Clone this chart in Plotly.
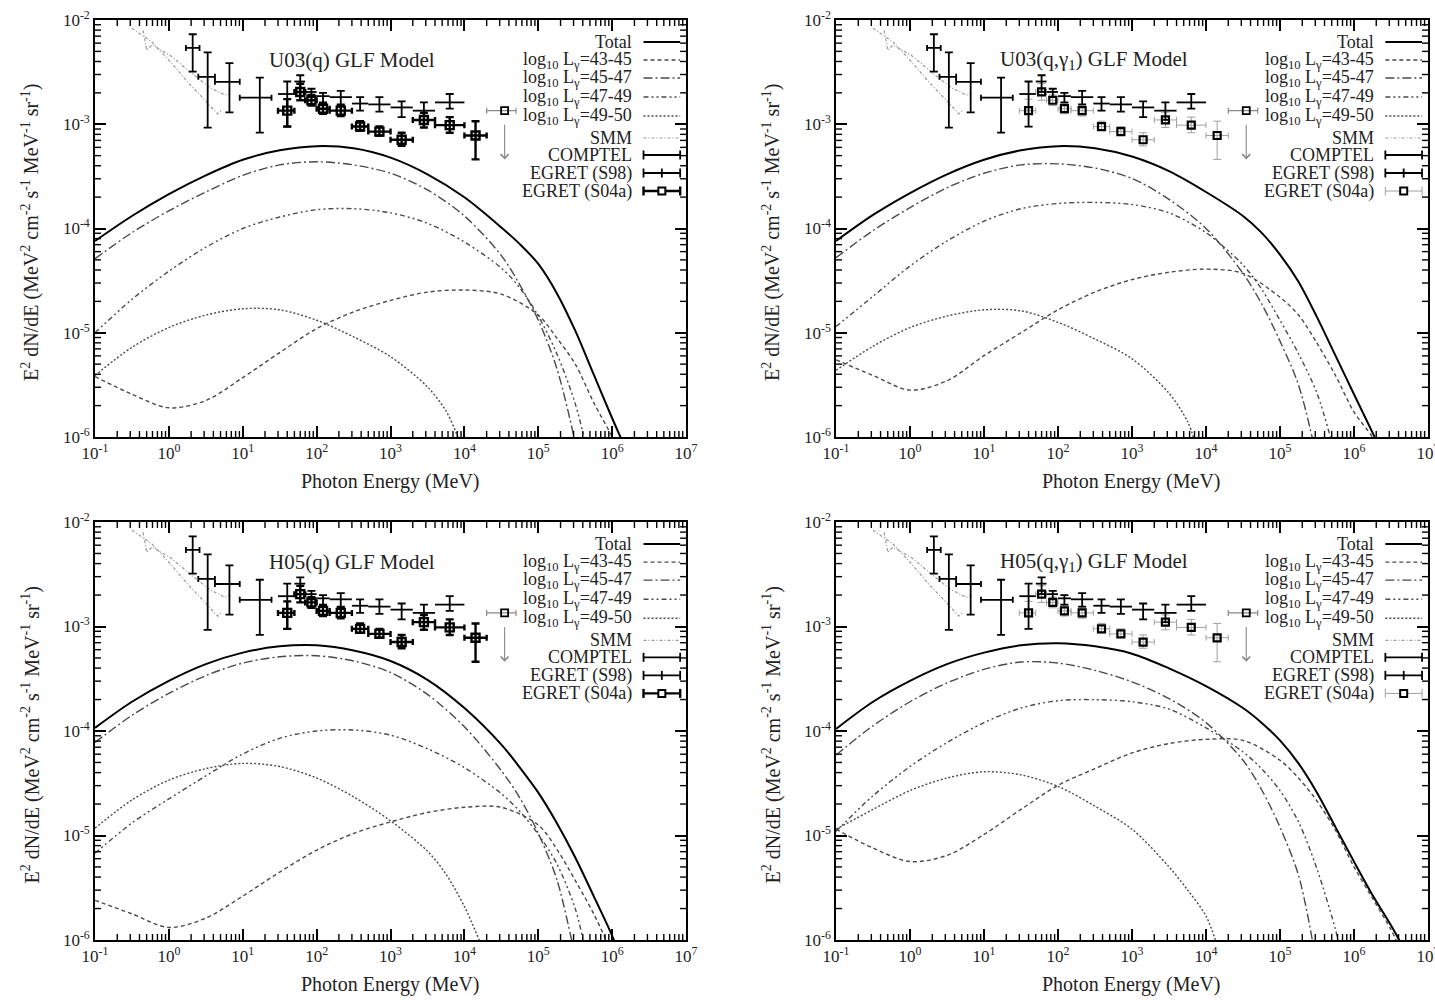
import numpy as np
import plotly.graph_objects as go

FONT = "Liberation Serif, Times New Roman, Times, serif"

# ---------------------------------------------------------------------------
# Panel layout (paper fractions), axis ranges (log10) and titles
# ---------------------------------------------------------------------------
X_DOMAINS = [[0.0662, 0.4781], [0.5826, 0.9951]]
Y_DOMAINS = [[0.563, 0.980], [0.060, 0.478]]
X_RANGE = [-1, 7]
Y_RANGE = [-6, -2]

PANEL_TITLES = [
    "U03(q) GLF Model",
    "U03(q,γ<sub>1</sub>) GLF Model",
    "H05(q) GLF Model",
    "H05(q,γ<sub>1</sub>) GLF Model",
]
LEGEND_LABELS = [
    "Total",
    "log<sub>10</sub> L<sub>γ</sub>=43-45",
    "log<sub>10</sub> L<sub>γ</sub>=45-47",
    "log<sub>10</sub> L<sub>γ</sub>=47-49",
    "log<sub>10</sub> L<sub>γ</sub>=49-50",
    "SMM",
    "COMPTEL",
    "EGRET (S98)",
    "EGRET (S04a)",
]
X_TITLE = "Photon Energy (MeV)"
Y_TITLE = ("E<sup>2</sup> dN/dE (MeV<sup>2</sup> cm<sup>-2</sup> s<sup>-1</sup> "
           "MeV<sup>-1</sup> sr<sup>-1</sup>)")
X_TICK_EXP = [-1, 0, 1, 2, 3, 4, 5, 6, 7]
Y_TICK_EXP = [-6, -5, -4, -3, -2]

# ---------------------------------------------------------------------------
# Model spectra: log10(E / MeV) and log10(E^2 dN/dE)
# ---------------------------------------------------------------------------
# U03(q)
U03Q_TOT_LOGE = [-1, -0.5, 0, 0.5, 1, 1.5, 2, 2.5, 3, 3.5, 4, 4.5, 4.75, 5, 5.25, 5.5, 5.75, 6, 6.25]
U03Q_TOT_LOGF = [-4.12, -3.88, -3.67, -3.49, -3.34, -3.25, -3.21, -3.23, -3.32, -3.48, -3.70,
                 -3.99, -4.15, -4.34, -4.62, -4.98, -5.40, -5.82, -6.22]
U03Q_4345_LOGE = [-1, -0.5, 0, 0.5, 1, 1.5, 2, 2.5, 3, 3.5, 4, 4.5, 5, 5.25, 5.5, 5.75, 6, 6.15]
U03Q_4345_LOGF = [-5.42, -5.59, -5.72, -5.65, -5.43, -5.19, -4.96, -4.80, -4.69, -4.61, -4.59,
                  -4.63, -4.83, -5.05, -5.30, -5.67, -6.0, -6.25]
U03Q_4547_LOGE = [-1, -0.5, 0, 0.5, 1, 1.5, 2, 2.5, 3, 3.5, 4, 4.5, 4.75, 5, 5.25, 5.5]
U03Q_4547_LOGF = [-4.29, -4.04, -3.83, -3.65, -3.49, -3.39, -3.36, -3.39, -3.47, -3.63, -3.88,
                  -4.26, -4.54, -4.88, -5.34, -6.05]
U03Q_4749_LOGE = [-1, -0.5, 0, 0.5, 1, 1.5, 2, 2.5, 3, 3.5, 4, 4.5, 4.75, 5, 5.25, 5.5, 5.65]
U03Q_4749_LOGF = [-5.00, -4.68, -4.41, -4.18, -4.00, -3.89, -3.82, -3.81, -3.85, -3.95, -4.13,
                  -4.38, -4.57, -4.84, -5.20, -5.68, -6.1]
U03Q_4950_LOGE = [-1, -0.5, 0, 0.5, 1, 1.5, 2, 2.5, 3, 3.5, 3.75, 3.9, 4.0]
U03Q_4950_LOGF = [-5.41, -5.14, -4.95, -4.83, -4.77, -4.78, -4.88, -5.04, -5.23, -5.52, -5.75,
                  -5.98, -6.2]

# U03(q, gamma1)
U03G_TOT_LOGE = [-1, -0.5, 0, 0.5, 1, 1.5, 2, 2.5, 3, 3.5, 4, 4.5, 4.75, 5, 5.25, 5.5, 5.75, 6,
                 6.3]
U03G_TOT_LOGF = [-4.12, -3.87, -3.66, -3.48, -3.34, -3.25, -3.21, -3.23, -3.31, -3.45, -3.65,
                 -3.88, -4.04, -4.25, -4.51, -4.85, -5.22, -5.59, -6.03]
U03G_4345_LOGE = [-1, -0.5, 0, 0.5, 1, 1.5, 2, 2.5, 3, 3.5, 4, 4.5, 5, 5.25, 5.5, 5.75, 6, 6.25,
                  6.4]
U03G_4345_LOGF = [-5.26, -5.41, -5.55, -5.46, -5.22, -5.00, -4.78, -4.61, -4.49, -4.42, -4.39,
                  -4.43, -4.66, -4.83, -5.10, -5.41, -5.76, -6.0, -6.2]
U03G_4547_LOGE = [-1, -0.5, 0, 0.5, 1, 1.5, 2, 2.5, 3, 3.5, 4, 4.5, 4.75, 5, 5.25, 5.45]
U03G_4547_LOGF = [-4.28, -4.02, -3.80, -3.61, -3.47, -3.39, -3.38, -3.42, -3.52, -3.72, -4.00,
                  -4.43, -4.72, -5.08, -5.50, -6.05]
U03G_4749_LOGE = [-1, -0.5, 0, 0.5, 1, 1.5, 2, 2.5, 3, 3.5, 4, 4.5, 4.75, 5, 5.25, 5.5, 5.7]
U03G_4749_LOGF = [-4.94, -4.65, -4.36, -4.12, -3.93, -3.81, -3.76, -3.75, -3.77, -3.85, -4.04,
                  -4.35, -4.58, -4.88, -5.20, -5.58, -6.05]
U03G_4950_LOGE = [-1, -0.5, 0, 0.5, 1, 1.5, 2, 2.5, 3, 3.5, 3.75, 3.85]
U03G_4950_LOGF = [-5.36, -5.13, -4.95, -4.84, -4.78, -4.79, -4.90, -5.06, -5.25, -5.58, -5.85,
                  -6.05]

# H05(q)
H05Q_TOT_LOGE = [-1, -0.5, 0, 0.5, 1, 1.5, 2, 2.5, 3, 3.5, 4, 4.5, 4.75, 5, 5.25, 5.5, 5.75, 6,
                 6.1]
H05Q_TOT_LOGF = [-3.97, -3.72, -3.52, -3.36, -3.25, -3.19, -3.18, -3.23, -3.33, -3.51, -3.78,
                 -4.13, -4.35, -4.59, -4.88, -5.21, -5.58, -5.96, -6.15]
H05Q_4345_LOGE = [-1, -0.5, 0, 0.5, 1, 1.5, 2, 2.5, 3, 3.5, 4, 4.5, 5, 5.25, 5.5, 5.75, 5.95]
H05Q_4345_LOGF = [-5.62, -5.75, -5.88, -5.79, -5.58, -5.35, -5.14, -4.98, -4.87, -4.78, -4.73,
                  -4.73, -4.90, -5.13, -5.43, -5.75, -6.05]
H05Q_4547_LOGE = [-1, -0.5, 0, 0.5, 1, 1.5, 2, 2.5, 3, 3.5, 4, 4.5, 4.75, 5, 5.25, 5.45]
H05Q_4547_LOGF = [-4.11, -3.85, -3.64, -3.47, -3.35, -3.29, -3.28, -3.33, -3.44, -3.65, -3.96,
                  -4.38, -4.64, -4.98, -5.42, -6.0]
H05Q_4749_LOGE = [-1, -0.5, 0, 0.5, 1, 1.5, 2, 2.5, 3, 3.5, 4, 4.5, 4.75, 5, 5.25, 5.5, 5.62]
H05Q_4749_LOGF = [-5.17, -4.88, -4.65, -4.43, -4.22, -4.07, -4.00, -3.99, -4.04, -4.17, -4.35,
                  -4.60, -4.77, -4.99, -5.27, -5.70, -6.05]
H05Q_4950_LOGE = [-1, -0.5, 0, 0.5, 1, 1.5, 2, 2.5, 3, 3.5, 3.75, 4, 4.2]
H05Q_4950_LOGF = [-4.93, -4.66, -4.47, -4.36, -4.31, -4.34, -4.45, -4.63, -4.86, -5.15, -5.37,
                  -5.68, -6.0]

# H05(q, gamma1)
H05G_TOT_LOGE = [-1, -0.5, 0, 0.5, 1, 1.5, 2, 2.5, 3, 3.5, 4, 4.5, 4.75, 5, 5.25, 5.5, 5.75, 6,
                 6.25, 6.5, 6.65]
H05G_TOT_LOGF = [-3.98, -3.72, -3.52, -3.36, -3.25, -3.18, -3.16, -3.19, -3.26, -3.40, -3.57,
                 -3.78, -3.92, -4.09, -4.31, -4.59, -4.92, -5.25, -5.57, -5.86, -6.05]
H05G_4345_LOGE = [-1, -0.5, 0, 0.5, 1, 1.5, 2, 2.5, 3, 3.5, 4, 4.5, 5, 5.25, 5.5, 5.75, 6, 6.25,
                  6.5, 6.6]
H05G_4345_LOGF = [-4.94, -5.12, -5.25, -5.19, -4.99, -4.75, -4.52, -4.36, -4.21, -4.12, -4.08,
                  -4.09, -4.28, -4.45, -4.67, -4.95, -5.30, -5.60, -5.90, -6.05]
H05G_4547_LOGE = [-1, -0.5, 0, 0.5, 1, 1.5, 2, 2.5, 3, 3.5, 4, 4.5, 4.75, 5, 5.25, 5.45]
H05G_4547_LOGF = [-4.23, -3.95, -3.72, -3.54, -3.41, -3.34, -3.35, -3.42, -3.53, -3.69, -3.92,
                  -4.28, -4.56, -4.92, -5.38, -6.05]
H05G_4749_LOGE = [-1, -0.5, 0, 0.5, 1, 1.5, 2, 2.5, 3, 3.5, 4, 4.5, 4.75, 5, 5.25, 5.5, 5.75, 5.8]
H05G_4749_LOGF = [-4.96, -4.62, -4.34, -4.11, -3.92, -3.78, -3.71, -3.70, -3.72, -3.79, -3.97,
                  -4.20, -4.36, -4.57, -4.87, -5.32, -5.90, -6.05]
H05G_4950_LOGE = [-1, -0.5, 0, 0.5, 1, 1.5, 2, 2.5, 3, 3.5, 3.75, 4, 4.15]
H05G_4950_LOGF = [-4.94, -4.75, -4.57, -4.45, -4.39, -4.42, -4.53, -4.72, -4.94, -5.30, -5.52,
                  -5.77, -6.05]

# ---------------------------------------------------------------------------
# Observational data (MeV, MeV^2 cm^-2 s^-1 MeV^-1 sr^-1)
# ---------------------------------------------------------------------------
SMM_A_LOGE = [-0.50, -0.23, 0.02, 0.26, 0.49, 0.66, 0.72]
SMM_A_LOGF = [-2.08, -2.21, -2.40, -2.60, -2.77, -2.90, -2.86]
SMM_B_LOGE = [-0.35, -0.30, -0.23, 0.02, 0.29, 0.56, 0.76, 0.83]
SMM_B_LOGF = [-2.10, -2.29, -2.24, -2.34, -2.50, -2.65, -2.72, -2.70]

COMPTEL_E = [2.1, 3.35, 6.6, 17.0]
COMPTEL_E_LO = [1.7, 2.5, 4.2, 9.1]
COMPTEL_E_HI = [2.6, 4.2, 9.1, 24.5]
COMPTEL_F = [5.4e-3, 2.85e-3, 2.55e-3, 1.8e-3]
COMPTEL_F_LO = [3.2e-3, 9.3e-4, 1.3e-3, 8.3e-4]
COMPTEL_F_HI = [7.3e-3, 4.9e-3, 3.85e-3, 2.8e-3]

S98_E = [40, 60, 85, 122, 212, 387, 707, 1414, 2828, 6325]
S98_E_LO = [30, 50, 70, 100, 150, 300, 500, 1000, 2000, 4000]
S98_E_HI = [50, 70, 100, 150, 300, 500, 1000, 2000, 4000, 10000]
S98_F = [1.95e-3, 2.57e-3, 2.04e-3, 1.86e-3, 1.82e-3, 1.58e-3, 1.55e-3, 1.45e-3, 1.35e-3, 1.62e-3]
S98_F_LO = [9.5e-4, 2.04e-3, 1.82e-3, 1.62e-3, 1.55e-3, 1.35e-3, 1.32e-3, 1.17e-3, 1.10e-3, 1.41e-3]
S98_F_HI = [2.57e-3, 2.95e-3, 2.19e-3, 2.00e-3, 2.09e-3, 1.82e-3, 1.82e-3, 1.66e-3, 1.62e-3, 1.95e-3]

S04_E = [40, 60, 85, 122, 212, 387, 707, 1414, 2828, 6325, 14142]
S04_E_LO = [30, 50, 70, 100, 150, 300, 500, 1000, 2000, 4000, 10000]
S04_E_HI = [50, 70, 100, 150, 300, 500, 1000, 2000, 4000, 10000, 20000]
S04_F = [1.35e-3, 2.04e-3, 1.70e-3, 1.41e-3, 1.35e-3, 9.5e-4, 8.5e-4, 7.1e-4, 1.10e-3, 9.8e-4, 7.8e-4]
S04_F_LO = [9.5e-4, 1.70e-3, 1.51e-3, 1.26e-3, 1.20e-3, 8.7e-4, 7.8e-4, 6.2e-4, 9.3e-4, 8.3e-4, 4.6e-4]
S04_F_HI = [1.74e-3, 2.45e-3, 1.91e-3, 1.58e-3, 1.51e-3, 1.07e-3, 9.5e-4, 8.3e-4, 1.29e-3, 1.17e-3, 1.07e-3]

# EGRET (S04a) upper limit
S04_UL_E = [35000]
S04_UL_E_LO = [20000]
S04_UL_E_HI = [50000]
S04_UL_F = [1.35e-3]
S04_UL_TIP = [4.6e-4]

# ---------------------------------------------------------------------------
# Line styles
# ---------------------------------------------------------------------------
MODEL_STYLES = [
    dict(color="black", width=2.0, dash="solid"),                      # Total
    dict(color="#4a4a4a", width=1.4, dash="4px,3px"),                  # 43-45
    dict(color="#4a4a4a", width=1.4, dash="9px,3px,2px,3px"),          # 45-47
    dict(color="#4a4a4a", width=1.4, dash="5px,3px,2px,3px,2px,3px"),  # 47-49
    dict(color="#4a4a4a", width=1.4, dash="2px,2px"),                  # 49-50
]
SMM_STYLE = dict(color="#9a9a9a", width=1.2, dash="3px,2px,1px,2px")

PANEL_CURVES = [
    [(U03Q_TOT_LOGE, U03Q_TOT_LOGF), (U03Q_4345_LOGE, U03Q_4345_LOGF),
     (U03Q_4547_LOGE, U03Q_4547_LOGF), (U03Q_4749_LOGE, U03Q_4749_LOGF),
     (U03Q_4950_LOGE, U03Q_4950_LOGF)],
    [(U03G_TOT_LOGE, U03G_TOT_LOGF), (U03G_4345_LOGE, U03G_4345_LOGF),
     (U03G_4547_LOGE, U03G_4547_LOGF), (U03G_4749_LOGE, U03G_4749_LOGF),
     (U03G_4950_LOGE, U03G_4950_LOGF)],
    [(H05Q_TOT_LOGE, H05Q_TOT_LOGF), (H05Q_4345_LOGE, H05Q_4345_LOGF),
     (H05Q_4547_LOGE, H05Q_4547_LOGF), (H05Q_4749_LOGE, H05Q_4749_LOGF),
     (H05Q_4950_LOGE, H05Q_4950_LOGF)],
    [(H05G_TOT_LOGE, H05G_TOT_LOGF), (H05G_4345_LOGE, H05G_4345_LOGF),
     (H05G_4547_LOGE, H05G_4547_LOGF), (H05G_4749_LOGE, H05G_4749_LOGF),
     (H05G_4950_LOGE, H05G_4950_LOGF)],
]


def errbar(center, lo, hi, color, thickness, width):
    c = np.asarray(center, dtype=float)
    return dict(type="data", symmetric=False,
                array=np.asarray(hi, dtype=float) - c,
                arrayminus=c - np.asarray(lo, dtype=float),
                color=color, thickness=thickness, width=width)


fig = go.Figure()
annotations = []
shapes = []

# short ticks at 2..9 x 10^k on all four sides of each frame
MINOR_LEN = 6.0
MINOR_DIGITS = range(2, 10)


def frac(v, rng):
    return (v - rng[0]) / (rng[1] - rng[0])


def minor_tick_shapes(xa, ya, w_px, h_px):
    out = []
    xd, yd = xa + " domain", ya + " domain"
    ly = MINOR_LEN / h_px
    lx = MINOR_LEN / w_px
    style = dict(color="black", width=1.4)
    for k in range(X_RANGE[0], X_RANGE[1]):
        for m in MINOR_DIGITS:
            xf = frac(np.log10(m) + k, X_RANGE)
            for y0, y1 in ((0, ly), (1 - ly, 1)):
                out.append(dict(type="line", xref=xd, yref=yd, x0=xf, x1=xf, y0=y0, y1=y1,
                                line=style, layer="above"))
    for k in range(Y_RANGE[0], Y_RANGE[1]):
        for m in MINOR_DIGITS:
            yf = frac(np.log10(m) + k, Y_RANGE)
            for x0, x1 in ((0, lx), (1 - lx, 1)):
                out.append(dict(type="line", xref=xd, yref=yd, x0=x0, x1=x1, y0=yf, y1=yf,
                                line=style, layer="above"))
    return out


for i in range(4):
    row, col = divmod(i, 2)
    suffix = "" if i == 0 else str(i + 1)
    xa, ya = "x" + suffix, "y" + suffix
    bold = (col == 0)  # left column: heavy S04a error bars

    # model curves
    for (le, lf), style in zip(PANEL_CURVES[i], MODEL_STYLES):
        fig.add_trace(go.Scatter(
            x=10.0 ** np.asarray(le), y=10.0 ** np.asarray(lf), mode="lines",
            line=dict(shape="spline", smoothing=0.9, **style),
            xaxis=xa, yaxis=ya, showlegend=False, hoverinfo="skip"))

    # SMM band
    for le, lf in [(SMM_A_LOGE, SMM_A_LOGF), (SMM_B_LOGE, SMM_B_LOGF)]:
        fig.add_trace(go.Scatter(
            x=10.0 ** np.asarray(le), y=10.0 ** np.asarray(lf), mode="lines",
            line=SMM_STYLE, xaxis=xa, yaxis=ya, showlegend=False, hoverinfo="skip"))

    # COMPTEL
    fig.add_trace(go.Scatter(
        x=COMPTEL_E, y=COMPTEL_F, mode="markers",
        marker=dict(size=1, color="black"),
        error_x=errbar(COMPTEL_E, COMPTEL_E_LO, COMPTEL_E_HI, "black", 1.8, 3),
        error_y=errbar(COMPTEL_F, COMPTEL_F_LO, COMPTEL_F_HI, "black", 1.8, 4),
        xaxis=xa, yaxis=ya, showlegend=False, hoverinfo="skip"))

    # EGRET (S04a)
    if bold:
        s04_err_col, s04_thick, s04_size, s04_lw = "black", 2.4, 8, 2.4
    else:
        s04_err_col, s04_thick, s04_size, s04_lw = "#a0a0a0", 1.0, 7, 2.2
    fig.add_trace(go.Scatter(
        x=S04_E, y=S04_F, mode="markers",
        marker=dict(symbol="square-open", size=s04_size, color="black",
                    line=dict(width=s04_lw, color="black")),
        error_x=errbar(S04_E, S04_E_LO, S04_E_HI, s04_err_col, s04_thick, 3),
        error_y=errbar(S04_F, S04_F_LO, S04_F_HI, s04_err_col, s04_thick, 4),
        xaxis=xa, yaxis=ya, showlegend=False, hoverinfo="skip"))

    # EGRET (S98)
    fig.add_trace(go.Scatter(
        x=S98_E, y=S98_F, mode="markers",
        marker=dict(size=1, color="black"),
        error_x=errbar(S98_E, S98_E_LO, S98_E_HI, "black", 1.8, 0),
        error_y=errbar(S98_F, S98_F_LO, S98_F_HI, "black", 1.8, 4),
        xaxis=xa, yaxis=ya, showlegend=False, hoverinfo="skip"))

    # S04a upper limit
    fig.add_trace(go.Scatter(
        x=S04_UL_E, y=S04_UL_F, mode="markers",
        marker=dict(symbol="square-open", size=7, color="black",
                    line=dict(width=1.8, color="black")),
        error_x=errbar(S04_UL_E, S04_UL_E_LO, S04_UL_E_HI, "#8a8a8a", 1.2, 3),
        xaxis=xa, yaxis=ya, showlegend=False, hoverinfo="skip"))
    for e, f, tip in zip(S04_UL_E, S04_UL_F, S04_UL_TIP):
        annotations.append(dict(
            x=np.log10(e), y=np.log10(tip), ax=np.log10(e), ay=np.log10(f) - 0.12,
            xref=xa, yref=ya, axref=xa, ayref=ya, text="", showarrow=True,
            arrowhead=4, arrowsize=1.4, arrowwidth=1.1, arrowcolor="#8a8a8a"))

    # panel title
    annotations.append(dict(
        text=PANEL_TITLES[i], x=0.435, y=0.905, xref=xa + " domain", yref=ya + " domain",
        showarrow=False, xanchor="center", yanchor="middle",
        font=dict(family=FONT, size=21, color="#222")))

    # key
    row_offsets = [22, 40, 58, 77, 96, 118, 135, 153, 171]
    height_px = 417.0
    width_px = 591.0
    xd, yd = xa + " domain", ya + " domain"
    for k, (label, off) in enumerate(zip(LEGEND_LABELS, row_offsets)):
        yk = 1 - off / height_px
        annotations.append(dict(
            text=label, x=0.912, y=yk, xref=xd, yref=yd,
            showarrow=False, xanchor="right", yanchor="middle",
            font=dict(family=FONT, size=18, color="#222")))
        x0, x1 = 0.928, 0.99
        cap = 4.5 / height_px
        if k < 5:
            shapes.append(dict(type="line", xref=xd, yref=yd, x0=x0, x1=x1, y0=yk, y1=yk,
                               line=dict(color=MODEL_STYLES[k]["color"],
                                         width=MODEL_STYLES[k]["width"],
                                         dash=MODEL_STYLES[k]["dash"])))
        elif k == 5:
            shapes.append(dict(type="line", xref=xd, yref=yd, x0=x0, x1=x1, y0=yk, y1=yk,
                               line=SMM_STYLE))
        else:
            col_k, lw = "black", 1.8
            if k == 8:
                col_k, lw = ("black", 2.4) if bold else ("#a0a0a0", 1.0)
            shapes.append(dict(type="line", xref=xd, yref=yd, x0=x0, x1=x1, y0=yk, y1=yk,
                               line=dict(color=col_k, width=lw)))
            for xc in (x0, x1):
                shapes.append(dict(type="line", xref=xd, yref=yd, x0=xc, x1=xc,
                                   y0=yk - cap, y1=yk + cap, line=dict(color=col_k, width=lw)))
            xm = (x0 + x1) / 2
            if k == 7:
                shapes.append(dict(type="line", xref=xd, yref=yd, x0=xm, x1=xm,
                                   y0=yk - cap, y1=yk + cap, line=dict(color="black", width=1.8)))
            if k == 8:
                shapes.append(dict(type="rect", xref=xd, yref=yd,
                                   x0=xm - 3.5 / width_px, x1=xm + 3.5 / width_px,
                                   y0=yk - 3.5 / height_px, y1=yk + 3.5 / height_px,
                                   fillcolor="white", line=dict(color="black", width=2)))

    shapes.extend(minor_tick_shapes(xa, ya, width_px, height_px))

    # axis titles
    xc_paper = sum(X_DOMAINS[col]) / 2
    annotations.append(dict(
        text=X_TITLE, x=xc_paper, y=Y_DOMAINS[row][0] - 0.044, xref="paper", yref="paper",
        showarrow=False, xanchor="center", yanchor="middle",
        font=dict(family=FONT, size=20, color="#222")))
    annotations.append(dict(
        text=Y_TITLE, x=X_DOMAINS[col][0] - 0.045, y=sum(Y_DOMAINS[row]) / 2 - 0.004,
        xref="paper", yref="paper", textangle=-90,
        showarrow=False, xanchor="center", yanchor="middle",
        font=dict(family=FONT, size=20, color="#222")))

    frame = dict(type="log", showline=True, linecolor="black", linewidth=1.6,
                 mirror="ticks", ticks="inside", tickcolor="black", ticklen=11, tickwidth=1.6,
                 showgrid=False, zeroline=False, automargin=False,
                 ticklabeloverflow="allow",
                 tickfont=dict(family=FONT, size=17, color="#222"))

    fig.layout["xaxis" + suffix] = dict(
        frame, domain=X_DOMAINS[col], range=X_RANGE, anchor=ya,
        tickmode="array", tickvals=[10.0 ** p for p in X_TICK_EXP],
        ticktext=["10<sup>%d</sup>" % p for p in X_TICK_EXP])
    fig.layout["yaxis" + suffix] = dict(
        frame, domain=Y_DOMAINS[row], range=Y_RANGE, anchor=xa,
        tickmode="array", tickvals=[10.0 ** p for p in Y_TICK_EXP],
        ticktext=["10<sup>%d</sup>" % p for p in Y_TICK_EXP])

fig.update_layout(
    width=1435, height=1000,
    margin=dict(l=0, r=0, t=0, b=0, autoexpand=False),
    paper_bgcolor="white", plot_bgcolor="white",
    showlegend=False,
    annotations=annotations, shapes=shapes,
    font=dict(family=FONT, color="#222"),
)

fig.write_html("out.html")
